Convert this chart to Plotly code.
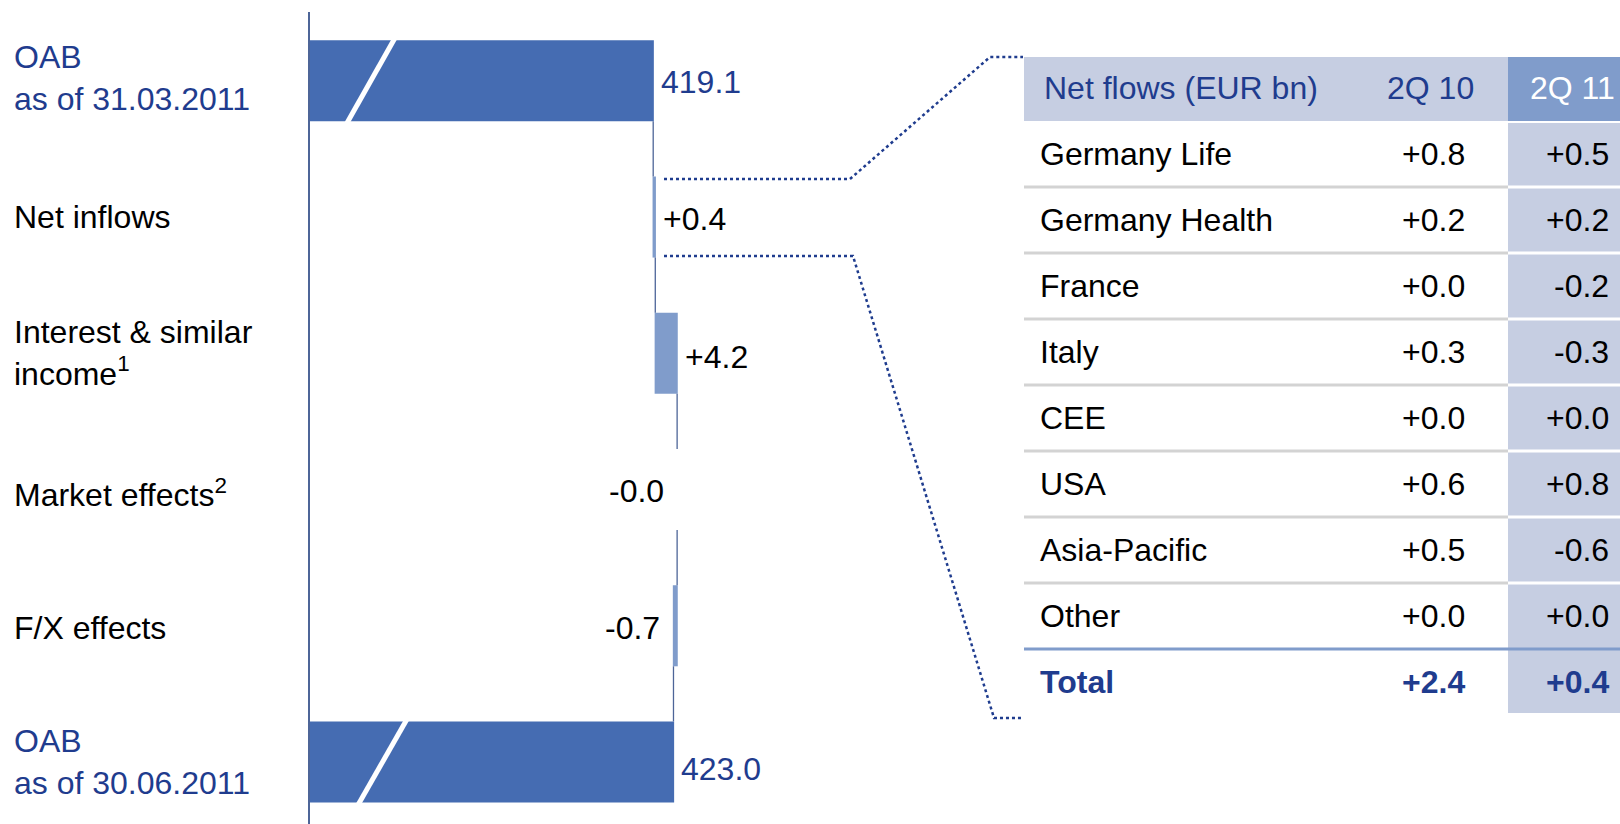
import plotly.graph_objects as go

# ── Colours ──
DARK_BAR = "#456CB2"
LIGHT_BAR = "#809CCB"
NAVY = "#1F3C8E"
AXIS_BLUE = "#4D6598"
HEAD_BG = "#C6CEE2"
HEAD_DARK = "#809CCB"
GRAY_RULE = "#D3D3D3"
FONT = "Liberation Sans, Arial, sans-serif"
FONT_SIZE = 32

W, H = 1620, 824

# ── Waterfall data (EUR bn) ──
CATEGORIES = [
    "OAB<br>as of 31.03.2011",
    "Net inflows",
    "Interest & similar<br>income<sup>1</sup>",
    "Market effects<sup>2</sup>",
    "F/X effects",
    "OAB<br>as of 30.06.2011",
]
MEASURES = ["absolute", "relative", "relative", "relative", "relative", "total"]
VALUES = [419.1, 0.4, 4.2, -0.0, -0.7, 0]

# ── Net flows table data ──
TABLE_HEADER = ["Net flows (EUR bn)", "2Q 10", "2Q 11"]
REGIONS = ["Germany Life", "Germany Health", "France", "Italy", "CEE", "USA", "Asia-Pacific", "Other"]
FLOWS_2Q10 = [0.8, 0.2, 0.0, 0.3, 0.0, 0.6, 0.5, 0.0]
FLOWS_2Q11 = [0.5, 0.2, -0.2, -0.3, 0.0, 0.8, -0.6, 0.0]

# axis is broken: it starts well above zero
X_START = 353.1
PX_PER_UNIT = 5.2
BAR_W = 0.595

# running totals for label placement / connectors
starts, ends = [], []
run = 0.0
for m, v in zip(MEASURES, VALUES):
    if m == "absolute":
        s, run = 0.0, v
    elif m == "relative":
        s = run
        run = run + v
    else:
        s = 0.0
    starts.append(s)
    ends.append(round(run, 1))

fig = go.Figure()

fig.add_trace(go.Waterfall(
    orientation="h",
    y=CATEGORIES,
    x=VALUES,
    measure=MEASURES,
    width=BAR_W,
    totals=dict(marker=dict(color=DARK_BAR)),
    increasing=dict(marker=dict(color=LIGHT_BAR)),
    decreasing=dict(marker=dict(color=LIGHT_BAR)),
    connector=dict(mode="between", line=dict(color=AXIS_BLUE, width=1.3)),
    textinfo="none",
    hoverinfo="skip",
    showlegend=False,
))

annotations = []

# category labels on the left
LABEL_SHIFT = [3, 0, 0, -3, -2, 0]
for i, cat in enumerate(CATEGORIES):
    is_total = MEASURES[i] != "relative"
    annotations.append(dict(
        x=12 / W, xref="paper", xanchor="left",
        y=i, yref="y", yanchor="middle", yshift=LABEL_SHIFT[i],
        text=cat, align="left", showarrow=False,
        font=dict(family=FONT, size=FONT_SIZE, color=NAVY if is_total else "black"),
    ))

# value labels next to the bars
VALUE_SHIFT = [-1, -2, -4, -1, -2, -7]
for i, m in enumerate(MEASURES):
    if m == "relative":
        v = VALUES[i]
        txt = f"{v:+.1f}"
        if txt.startswith("-"):
            x, anchor, shift = min(starts[i], ends[i]), "right", -12
        else:
            x, anchor, shift = max(starts[i], ends[i]), "left", 7
        color = "black"
    else:
        txt = f"{ends[i]:.1f}"
        x, anchor, shift = ends[i], "left", 7
        color = NAVY
    annotations.append(dict(
        x=x, xref="x", xanchor=anchor, xshift=shift,
        y=i, yref="y", yanchor="middle", yshift=VALUE_SHIFT[i],
        text=txt, showarrow=False, borderpad=0,
        font=dict(family=FONT, size=FONT_SIZE, color=color),
    ))

shapes = []

# white axis-break stripes through the two total bars
BREAKS = {0: (369.2, 360.4), 5: (371.5, 362.6)}
for i, (x_top, x_bot) in BREAKS.items():
    ext = 0.15
    y0, y1 = i - BAR_W / 2 - ext, i + BAR_W / 2 + ext
    slope = (x_bot - x_top) / BAR_W
    shapes.append(dict(
        type="line", xref="x", yref="y",
        x0=x_top - slope * ext, y0=y0, x1=x_bot + slope * ext, y1=y1,
        line=dict(color="white", width=5), layer="above",
    ))

# ── table on a second pair of axes (x2 in px-like units, y2 = rows) ──
TX0, TX_SPLIT, TX1 = 1024, 1508, 1620
n_rows = len(REGIONS) + 2  # header + regions + total

shapes.append(dict(type="rect", xref="x2", yref="y2", x0=TX0, x1=TX_SPLIT, y0=0.03, y1=1,
                   fillcolor=HEAD_BG, line=dict(width=0), layer="below"))
shapes.append(dict(type="rect", xref="x2", yref="y2", x0=TX_SPLIT, x1=TX1, y0=0.03, y1=1,
                   fillcolor=HEAD_DARK, line=dict(width=0), layer="below"))
shapes.append(dict(type="rect", xref="x2", yref="y2", x0=TX_SPLIT, x1=TX1, y0=1.03, y1=n_rows - 0.03,
                   fillcolor=HEAD_BG, line=dict(width=0), layer="below"))
for r in range(2, n_rows - 1):
    shapes.append(dict(type="line", xref="x2", yref="y2", x0=TX0, x1=TX_SPLIT, y0=r, y1=r,
                       line=dict(color=GRAY_RULE, width=3)))
    shapes.append(dict(type="line", xref="x2", yref="y2", x0=TX_SPLIT, x1=TX1, y0=r, y1=r,
                       line=dict(color="white", width=3)))
shapes.append(dict(type="line", xref="x2", yref="y2", x0=TX0, x1=TX1, y0=n_rows - 1, y1=n_rows - 1,
                   line=dict(color=HEAD_DARK, width=3)))

COL_LABEL_X, COL1_X, COL2_X = 1039, 1466, 1610


def cell(x, y, text, anchor, color="black", bold=False):
    return dict(
        x=x, xref="x2", xanchor=anchor, y=y, yref="y2", yanchor="middle",
        text=f"<b>{text}</b>" if bold else text, showarrow=False, borderpad=0,
        font=dict(family=FONT, size=FONT_SIZE, color=color),
    )


annotations.append(cell(1043, 0.5, TABLE_HEADER[0], "left", NAVY))
annotations.append(cell(1475, 0.5, TABLE_HEADER[1], "right", NAVY))
annotations.append(cell(1616, 0.5, TABLE_HEADER[2], "right", "white"))
for k, (name, a, b) in enumerate(zip(REGIONS, FLOWS_2Q10, FLOWS_2Q11)):
    r = k + 1.5
    annotations.append(cell(COL_LABEL_X, r, name, "left"))
    annotations.append(cell(COL1_X, r, f"{a:+.1f}", "right"))
    annotations.append(cell(COL2_X, r, f"{b:+.1f}", "right"))
tot_r = n_rows - 0.5
annotations.append(cell(COL_LABEL_X, tot_r, "Total", "left", NAVY, True))
annotations.append(cell(COL1_X, tot_r, f"{round(sum(FLOWS_2Q10), 1):+.1f}", "right", NAVY, True))
annotations.append(cell(COL2_X, tot_r, f"{round(sum(FLOWS_2Q11), 1):+.1f}", "right", NAVY, True))

# invisible anchor trace so the table axes exist
fig.add_trace(go.Scatter(x=[TX0, TX1], y=[0, n_rows], xaxis="x2", yaxis="y2",
                         mode="markers", marker=dict(opacity=0), hoverinfo="skip", showlegend=False))


# dotted leader lines from the net inflows bar to the table
def px(x, y):
    return f"{x / W:.5f},{1 - y / H:.5f}"


for pts in ([(664, 179), (850, 179), (990, 57), (1023, 57)],
            [(664, 256), (853, 256), (994, 718), (1023, 718)]):
    path = "M " + " L ".join(px(x, y) for x, y in pts)
    shapes.append(dict(type="path", xref="paper", yref="paper", path=path,
                       line=dict(color=NAVY, width=2.5, dash="dot")))

x_dom = [310 / W, 800 / W]
fig.update_layout(
    width=W, height=H,
    margin=dict(l=0, r=0, t=0, b=0),
    paper_bgcolor="white", plot_bgcolor="white",
    font=dict(family=FONT, size=FONT_SIZE, color="black"),
    showlegend=False,
    xaxis=dict(domain=x_dom, range=[X_START, X_START + (x_dom[1] - x_dom[0]) * W / PX_PER_UNIT],
               showgrid=False, zeroline=False, showticklabels=False, showline=False, fixedrange=True),
    yaxis=dict(domain=[0, 1 - 12 / H], type="category", range=[5.455, -0.505],
               showgrid=False, zeroline=False, showticklabels=False, ticks="",
               showline=True, linecolor=AXIS_BLUE, linewidth=1.5, fixedrange=True),
    xaxis2=dict(domain=[TX0 / W, 1], range=[TX0, TX1], visible=False, anchor="y2"),
    yaxis2=dict(domain=[1 - 715 / H, 1 - 55 / H], range=[n_rows, 0], visible=False, anchor="x2"),
    annotations=annotations,
    shapes=shapes,
)

# page body margin would push the fixed-size figure off the window edge
fig.write_html("out.html", config={"displayModeBar": False},
               post_script="document.body.style.margin='0';")
